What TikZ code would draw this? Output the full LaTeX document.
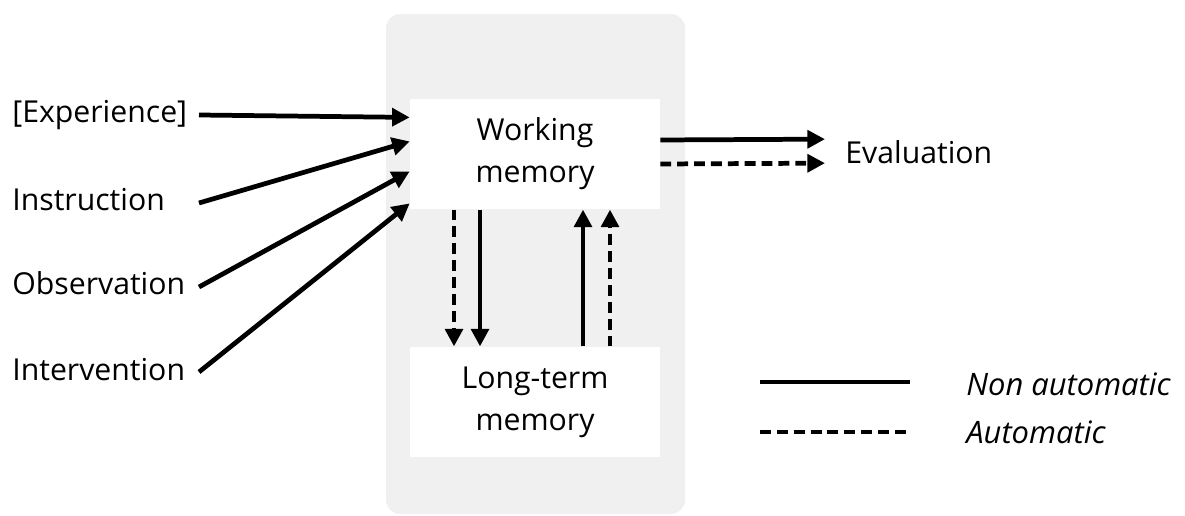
\documentclass[tikz,border=0pt]{standalone}
\usepackage{fontspec}
\setmainfont{Open Sans}
\usetikzlibrary{calc,arrows.meta}
\definecolor{panelgray}{HTML}{F0F0F0}
\tikzset{
  lbl/.style={anchor=base west, inner sep=0pt, font=\fontsize{17.2}{22}\selectfont},
  membox/.style={fill=white, align=center, minimum width=5cm, minimum height=2.21cm,
    font=\fontsize{17.2}{24}\selectfont},
  arr/.style={line width=2.7pt, -{Triangle[length=10pt,width=10pt]}},
  dsh/.style={dash pattern=on 6.2pt off 3.4pt}
}
\begin{document}
\begin{tikzpicture}[x=0.02cm,y=-0.02cm]
  \useasboundingbox (0,0) rectangle (1185,516);
  \fill[panelgray, rounded corners=8pt] (386,14) rectangle (685,514);

  \node[membox] (wm) at (535,154) {Working\\memory};
  \node[membox] (ltm) at (535,402) {Long-term\\memory};

  \node[lbl] (exp) at (12,123) {[Experience]};
  \node[lbl] (ins) at (12,211) {Instruction};
  \node[lbl] (obs) at (12,295) {Observation};
  \node[lbl] (itv) at (12,380) {Intervention};
  \node[lbl] (eval) at (845,163.5) {Evaluation};

  \foreach \src/\dy in {exp/19, ins/43, obs/73, itv/105}{
    \draw[arr] ($(\src.base west)+(187,-8)$) -- ($(wm.north west)+(0,\dy)$);
  }

  % to evaluation
  \draw[arr] ($(wm.east)+(0,-14)$) -- ($(eval.west)+(-20,-13)$);
  \draw[arr, dsh] ($(wm.east)+(0,10)$) -- ($(eval.west)+(-20,11)$);

  % between the memories
  \draw[arr, dsh] ($(wm.south)+(-81,0)$) -- ($(ltm.north)+(-81,0)$);
  \draw[arr] ($(wm.south)+(-55,0)$) -- ($(ltm.north)+(-55,0)$);
  \draw[arr] ($(ltm.north)+(48,0)$) -- ($(wm.south)+(48,0)$);
  \draw[arr, dsh] ($(ltm.north)+(75,0)$) -- ($(wm.south)+(75,0)$);

  % legend
  \node[lbl, font=\fontsize{17.6}{22}\selectfont\itshape] (nonauto) at (966,396) {Non automatic};
  \node[lbl, font=\fontsize{17.6}{22}\selectfont\itshape] (auto) at (966,443) {Automatic};
  \draw[line width=2.7pt] ($(nonauto.base west)+(-206,-14)$) -- ++(150,0);
  \draw[line width=2.7pt, dsh] ($(auto.base west)+(-206,-11)$) -- ++(150,0);
\end{tikzpicture}
\end{document}
